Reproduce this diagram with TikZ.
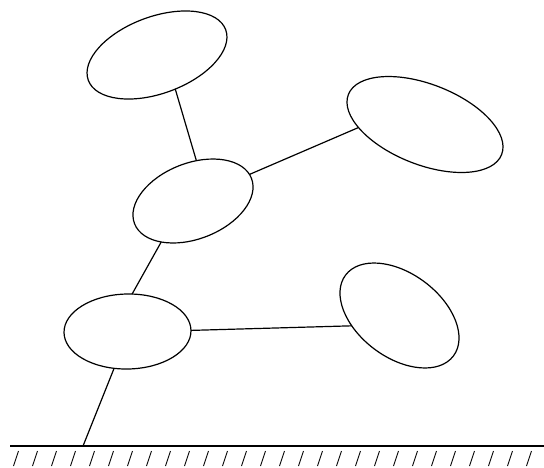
\documentclass[tikz,border=0pt]{standalone}
\usetikzlibrary{shapes.geometric}
\begin{document}
\begin{tikzpicture}[x=1pt,y=-1pt,
  link/.style={draw, ellipse, line width=1.2pt, inner sep=0pt, outer sep=0pt},
  bar/.style={line width=1.2pt},
  hatch/.style={line width=0.9pt}]
\useasboundingbox (0,0) rectangle (544,467);
\node[link, minimum width=146.4pt, minimum height=76.8pt, rotate=20.2] (e1) at (157,55) {};
\node[link, minimum width=164.6pt, minimum height=80.4pt, rotate=-21.4] (e2) at (425,124.5) {};
\node[link, minimum width=125.4pt, minimum height=75.8pt, rotate=21.2] (e3) at (193,201) {};
\node[link, minimum width=127pt, minimum height=75pt, rotate=1] (e4) at (127.5,331.5) {};
\node[link, minimum width=134.8pt, minimum height=83.8pt, rotate=-36.8] (e5) at (399.5,315.5) {};
\coordinate (g) at (83,446);
\draw[bar] (10,446) -- (544,446);
\foreach \i in {0,...,27} {
  \draw[hatch] (13.5+19*\i+5,451) -- (13.5+19*\i,466);
}
\draw[bar] (g) -- (e4.249);
\draw[bar] (e4.82) -- (e3.211);
\draw[bar] (e3.64) -- (e1.278);
\draw[bar] (e3.4) -- (e2.204);
\draw[bar] (e4.east) -- (e5.229);
\end{tikzpicture}
\end{document}
